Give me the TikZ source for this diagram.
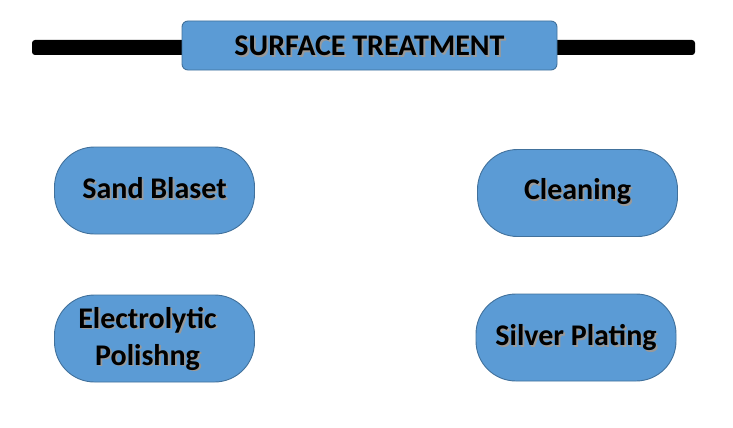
\documentclass[tikz,border=0pt]{standalone}
\usepackage{fontspec}
\setmainfont{Carlito}
\definecolor{boxfill}{HTML}{5B9BD5}
\definecolor{boxline}{HTML}{41719C}
\newcommand{\shtext}[1]{\leavevmode\rlap{\raisebox{-1.8pt}[0pt][0pt]{\hspace{1.8pt}\textcolor{black!40}{#1}}}#1}
\tikzset{
  pill/.style={draw=boxline, line width=0.9pt, fill=boxfill, rounded corners=40pt, minimum width=200pt, minimum height=87pt, inner sep=0pt},
  lbl/.style={font=\bfseries\fontsize{30}{37}\selectfont, align=center, text=black, inner sep=0pt},
}
\begin{document}
\begin{tikzpicture}[x=1pt,y=-1pt]
\useasboundingbox (0,0) rectangle (733,428);
% bar
\fill[black, rounded corners=3pt] (32,40) rectangle (695,55);
% title
\node[draw=boxline, line width=0.9pt, fill=boxfill, rounded corners=6pt, minimum width=375pt, minimum height=49pt, inner sep=0pt] (title) at (369.5,45.5) {};
\node[lbl] (titletext) at (title.center) {\shtext{SURFACE TREATMENT}};
% boxes
\node[pill] (sand) at (154.5,190.5) {};
\node[pill] (clean) at (577.5,193) {};
\node[pill] (elec) at (154.5,338.5) {};
\node[pill] (silver) at (576,337.5) {};
\node[lbl] (sandtext) at ([shift={(0,-2.5)}]sand.center) {\shtext{Sand Blaset}};
\node[lbl] (cleantext) at ([shift={(0,-1)}]clean.center) {\shtext{Cleaning}};
\node[lbl, text width=200pt] (electext) at ([shift={(-7,0)}]elec.center) {\shtext{Electrolytic}\\\shtext{Polishng}};
\node[lbl] (silvertext) at ([shift={(0,0)}]silver.center) {\shtext{Silver Plating}};
\end{tikzpicture}
\end{document}
